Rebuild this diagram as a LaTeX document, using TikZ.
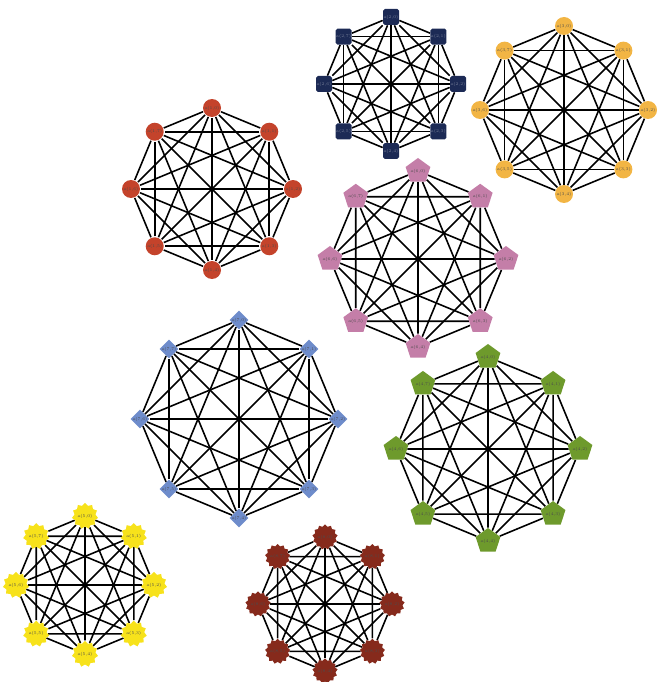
\documentclass[tikz,border=0pt]{standalone}
\usetikzlibrary{shapes.geometric, backgrounds}
\definecolor{cred}{HTML}{C4432B}
\definecolor{cnavy}{HTML}{1C2A55}
\definecolor{corange}{HTML}{F2B544}
\definecolor{cpink}{HTML}{C47EA8}
\definecolor{cblue}{HTML}{6E8CCB}
\definecolor{cgreen}{HTML}{6E9A2C}
\definecolor{cyellow}{HTML}{F7E21B}
\definecolor{cmaroon}{HTML}{862A1C}
\tikzset{
  every picture/.style={line width=0.9pt},
  vtx/.style={draw=none, fill=#1, inner sep=0pt, font=\fontsize{2.4}{3}\selectfont, text=black!70},
  edge/.style={draw=black, line width=0.9pt},
  roundv/.style={vtx=#1, circle, minimum size=0.36cm},
  squarev/.style={vtx=#1, rectangle, rounded corners=1pt, minimum size=0.32cm, text=white!40!cnavy},
  pentv/.style={vtx=#1, regular polygon, regular polygon sides=5, minimum size=0.44cm},
  diamondv/.style={vtx=#1, diamond, minimum width=0.38cm, minimum height=0.38cm},
  sealv/.style={vtx=#1, star, star points=11, star point ratio=1.25, minimum size=0.36cm},
}
% one complete graph on 8 vertices: name, centre, radius, vertex style, index
\newcommand{\keight}[5]{%
  \begin{scope}[shift={#2}]
    \foreach \i in {0,...,7}
      \node[#4] (#1\i) at ({-90+45*\i}:#3) {a(#5,\i)};
  \end{scope}
  \begin{pgfonlayer}{background}
    \foreach \i in {0,...,6}{
      \pgfmathtruncatemacro\nxt{\i+1}
      \foreach \j in {\nxt,...,7}
        \draw[edge] (#1\i) -- (#1\j);
    }
  \end{pgfonlayer}
}

\begin{document}
\begin{tikzpicture}[x=0.02cm, y=-0.02cm]
  \useasboundingbox (0,0) rectangle (657,682);
  % top row
  \keight{red}{(212,189)}{81}{roundv=cred}{1}
  \keight{navy}{(391,84)}{67}{squarev=cnavy}{2}
  \keight{orange}{(564,110)}{84}{roundv=corange}{3}
  % middle
  \keight{pink}{(418,259)}{88}{pentv=cpink}{6}
  \keight{blue}{(239,419)}{99}{diamondv=cblue}{7}
  \keight{green}{(488,449)}{92}{pentv={cgreen}, minimum size=0.48cm}{4}
  % bottom
  \keight{yellow}{(85,585)}{69}{sealv=cyellow}{5}
  \keight{maroon}{(325,604)}{67}{sealv=cmaroon, star points=13, star point ratio=1.2, minimum size=0.38cm}{8}
\end{tikzpicture}
\end{document}
